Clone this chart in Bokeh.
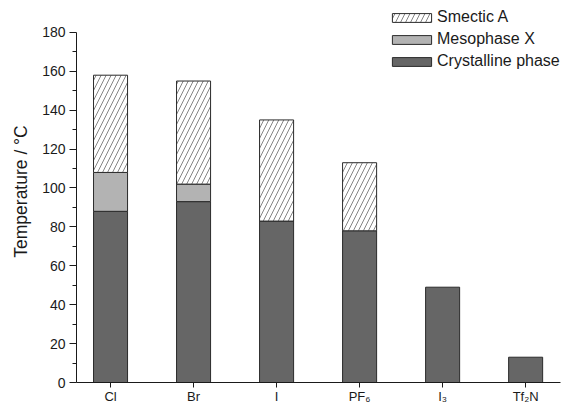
from bokeh.plotting import figure
from bokeh.models import FixedTicker, Legend, LegendItem, Range1d
from bokeh.embed import file_html
from bokeh.resources import INLINE

categories = ["Cl", "Br", "I", "PF\u2086", "I\u2083", "Tf\u2082N"]
crystalline = [88, 93, 83, 78, 49, 13]
mesophase_x = [20, 9, 0, 0, 0, 0]
smectic_a = [50, 53, 52, 35, 0, 0]
y_ticks = [0, 20, 40, 60, 80, 100, 120, 140, 160, 180]

FONT = "Liberation Sans"
xs = list(range(len(categories)))

p = figure(width=565, height=406, output_backend="svg", toolbar_location=None,
           x_range=Range1d(-0.41, 5.42), y_range=Range1d(0, 196.4),
           min_border_left=76, min_border_right=5, min_border_top=0, min_border_bottom=22)
p.outline_line_color = None
p.grid.visible = False
p.background_fill_color = "white"

W = 0.41
r_cry = p.vbar(x=xs, bottom=[0] * len(xs), top=crystalline, width=W,
               fill_color="#666666", line_color="#2b2b2b", line_width=1)
mx = [x for x, m in zip(xs, mesophase_x) if m > 0]
mb = [c for c, m in zip(crystalline, mesophase_x) if m > 0]
mt = [c + m for c, m in zip(crystalline, mesophase_x) if m > 0]
r_mes = p.vbar(x=mx, bottom=mb, top=mt, width=W,
               fill_color="#b3b3b3", line_color="#2b2b2b", line_width=1)
sx = [x for x, s in zip(xs, smectic_a) if s > 0]
sb = [c + m for c, m, s in zip(crystalline, mesophase_x, smectic_a) if s > 0]
st = [c + m + s for c, m, s in zip(crystalline, mesophase_x, smectic_a) if s > 0]
r_sme = p.vbar(x=sx, bottom=sb, top=st, width=W,
               fill_color="white", line_color="#2b2b2b", line_width=1,
               hatch_pattern="/", hatch_color="#666666", hatch_weight=0.8, hatch_scale=10)

xa = p.xaxis[0]
xa.ticker = FixedTicker(ticks=xs, minor_ticks=[])
xa.major_label_overrides = {i: c for i, c in enumerate(categories)}
xa.major_tick_out = 5
xa.major_tick_in = 0
xa.minor_tick_out = 0
xa.major_label_standoff = 1
xa.major_label_text_font = FONT
xa.major_label_text_font_size = "13px"
xa.major_label_text_color = "#1a1a1a"
xa.axis_line_color = "#1a1a1a"
xa.major_tick_line_color = "#1a1a1a"

ya = p.yaxis[0]
ya.ticker = FixedTicker(ticks=y_ticks, minor_ticks=[t + 10 for t in y_ticks[:-1]])
ya.bounds = (0, 180)
ya.major_tick_out = 7
ya.major_tick_in = 0
ya.minor_tick_out = 4
ya.minor_tick_in = 0
ya.major_label_standoff = 4
ya.major_label_text_font = FONT
ya.major_label_text_font_size = "14px"
ya.major_label_text_color = "#1a1a1a"
ya.axis_line_color = "#1a1a1a"
ya.major_tick_line_color = "#1a1a1a"
ya.minor_tick_line_color = "#1a1a1a"
ya.axis_label = "Temperature / \u00b0C"
ya.axis_label_text_font = FONT
ya.axis_label_text_font_size = "17.5px"
ya.axis_label_text_font_style = "normal"
ya.axis_label_text_color = "#1a1a1a"
ya.axis_label_standoff = 8

legend = Legend(items=[
    LegendItem(label="Smectic A", renderers=[r_sme]),
    LegendItem(label="Mesophase X", renderers=[r_mes]),
    LegendItem(label="Crystalline phase", renderers=[r_cry]),
], location=(311, 310), padding=0, margin=0, spacing=0,
    glyph_width=49, glyph_height=11, label_height=22, label_standoff=1,
    label_text_font=FONT, label_text_font_size="16px", label_text_color="#1a1a1a",
    border_line_color=None, background_fill_alpha=0)
p.add_layout(legend)

open("out.html", "w").write(file_html(p, INLINE))
